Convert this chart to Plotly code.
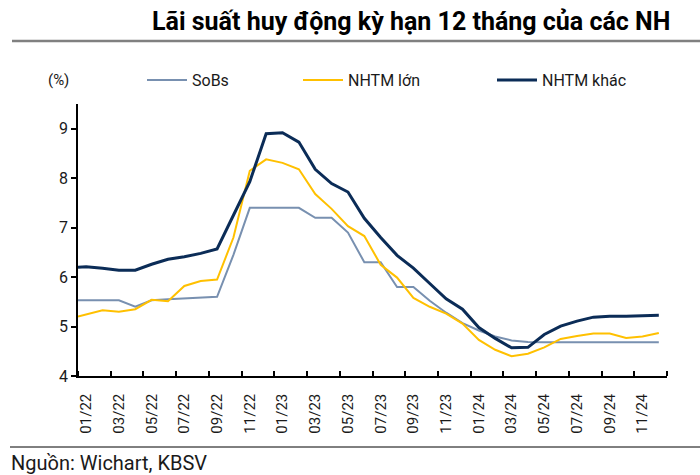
import plotly.graph_objects as go

# month positions: first point at the start of 01/22, then mid-month observations
obs_month = [0] + [m + 0.5 for m in range(36)]

sobs = [5.53, 5.53, 5.53, 5.53, 5.40, 5.53, 5.55, 5.57, 5.59, 5.60, 6.45, 7.40, 7.40,
        7.40, 7.40, 7.20, 7.20, 6.90, 6.30, 6.30, 5.80, 5.80, 5.52, 5.28, 5.07,
        4.92, 4.80, 4.72, 4.69, 4.68, 4.68, 4.68, 4.68, 4.68, 4.68, 4.68, 4.68]
nhtm_lon = [5.20, 5.24, 5.33, 5.30, 5.35, 5.54, 5.51, 5.82, 5.92, 5.95, 6.80, 8.15, 8.38,
            8.31, 8.18, 7.68, 7.38, 7.03, 6.83, 6.25, 5.99, 5.58, 5.40, 5.26, 5.06,
            4.73, 4.53, 4.40, 4.45, 4.58, 4.75, 4.81, 4.86, 4.86, 4.77, 4.80, 4.87]
nhtm_khac = [6.20, 6.21, 6.18, 6.14, 6.14, 6.26, 6.36, 6.41, 6.48, 6.57, 7.25, 7.93, 8.90,
             8.92, 8.73, 8.18, 7.89, 7.72, 7.19, 6.80, 6.44, 6.18, 5.87, 5.56, 5.35,
             4.98, 4.76, 4.57, 4.58, 4.84, 5.01, 5.11, 5.19, 5.21, 5.21, 5.22, 5.23]

tick_labels = ["01/22", "03/22", "05/22", "07/22", "09/22", "11/22",
               "01/23", "03/23", "05/23", "07/23", "09/23", "11/23",
               "01/24", "03/24", "05/24", "07/24", "09/24", "11/24"]
y_ticks = [4, 5, 6, 7, 8, 9]

FONT = "Roboto, Arial, sans-serif"

# plot area in pixels (700x475 page)
L, R, T, B = 78, 667, 104, 376
def px(x):
    return (x - L) / (R - L)
def py(y):
    return (B - y) / (B - T)

fig = go.Figure()
fig.add_trace(go.Scatter(x=obs_month, y=sobs, name="SoBs", mode="lines", legend="legend",
                         line=dict(color="#7890B0", width=2)))
fig.add_trace(go.Scatter(x=obs_month, y=nhtm_lon, name="NHTM lớn", mode="lines", legend="legend2",
                         line=dict(color="#FFC000", width=2)))
fig.add_trace(go.Scatter(x=obs_month, y=nhtm_khac, name="NHTM khác", mode="lines", legend="legend3",
                         line=dict(color="#0B2C57", width=3)))

leg = dict(orientation="h", xanchor="left", y=py(80), yanchor="middle",
           font=dict(size=16), itemwidth=40, bgcolor="rgba(0,0,0,0)")

fig.update_layout(
    width=700, height=475,
    margin=dict(l=L, r=700 - R, t=T, b=475 - B),
    paper_bgcolor="white", plot_bgcolor="white",
    font=dict(family=FONT, size=15, color="#1a1a1a"),
    showlegend=True,
    legend=dict(leg, x=px(142)),
    legend2=dict(leg, x=px(298)),
    legend3=dict(leg, x=px(492)),
    xaxis=dict(range=[0, 36], showgrid=False, zeroline=False,
               showline=True, linecolor="black", linewidth=1.5,
               tickmode="array", tickvals=[i * 2 + 0.5 for i in range(len(tick_labels))],
               ticktext=tick_labels, ticks="", tickangle=-90, ticklabelstandoff=10,
               tickfont=dict(size=15),
               minor=dict(tickmode="array", tickvals=[i * 2 for i in range(19)],
                          ticks="inside", ticklen=5, tickcolor="black", tickwidth=1.5)),
    yaxis=dict(range=[4, 9.5], showgrid=False, zeroline=False,
               showline=True, linecolor="black", linewidth=1.5,
               tickmode="array", tickvals=y_ticks, ticks="outside", ticklen=5,
               tickcolor="black", tickwidth=1.5, tickfont=dict(size=16)),
)

# title, separators, unit label and source
fig.add_annotation(text="<b>Lãi suất huy động kỳ hạn 12 tháng của các NH</b>",
                   xref="paper", yref="paper", x=px(672), y=py(21),
                   xanchor="right", yanchor="middle", showarrow=False,
                   font=dict(size=25, color="black"))
fig.add_shape(type="line", xref="paper", yref="paper", x0=px(12), x1=px(700),
              y0=py(41), y1=py(41), line=dict(color="#808080", width=2.5))
fig.add_annotation(text="(%)", xref="paper", yref="paper", x=px(46), y=py(80),
                   xanchor="left", yanchor="middle", showarrow=False,
                   font=dict(size=15))
fig.add_shape(type="line", xref="paper", yref="paper", x0=px(10), x1=px(700),
              y0=py(447), y1=py(447), line=dict(color="black", width=1))
fig.add_annotation(text="Nguồn: Wichart, KBSV", xref="paper", yref="paper",
                   x=px(9), y=py(463), xanchor="left", yanchor="middle",
                   showarrow=False, font=dict(size=20))

fig.write_html("out.html", config={"displayModeBar": False},
               post_script="document.body.style.margin='0';")
